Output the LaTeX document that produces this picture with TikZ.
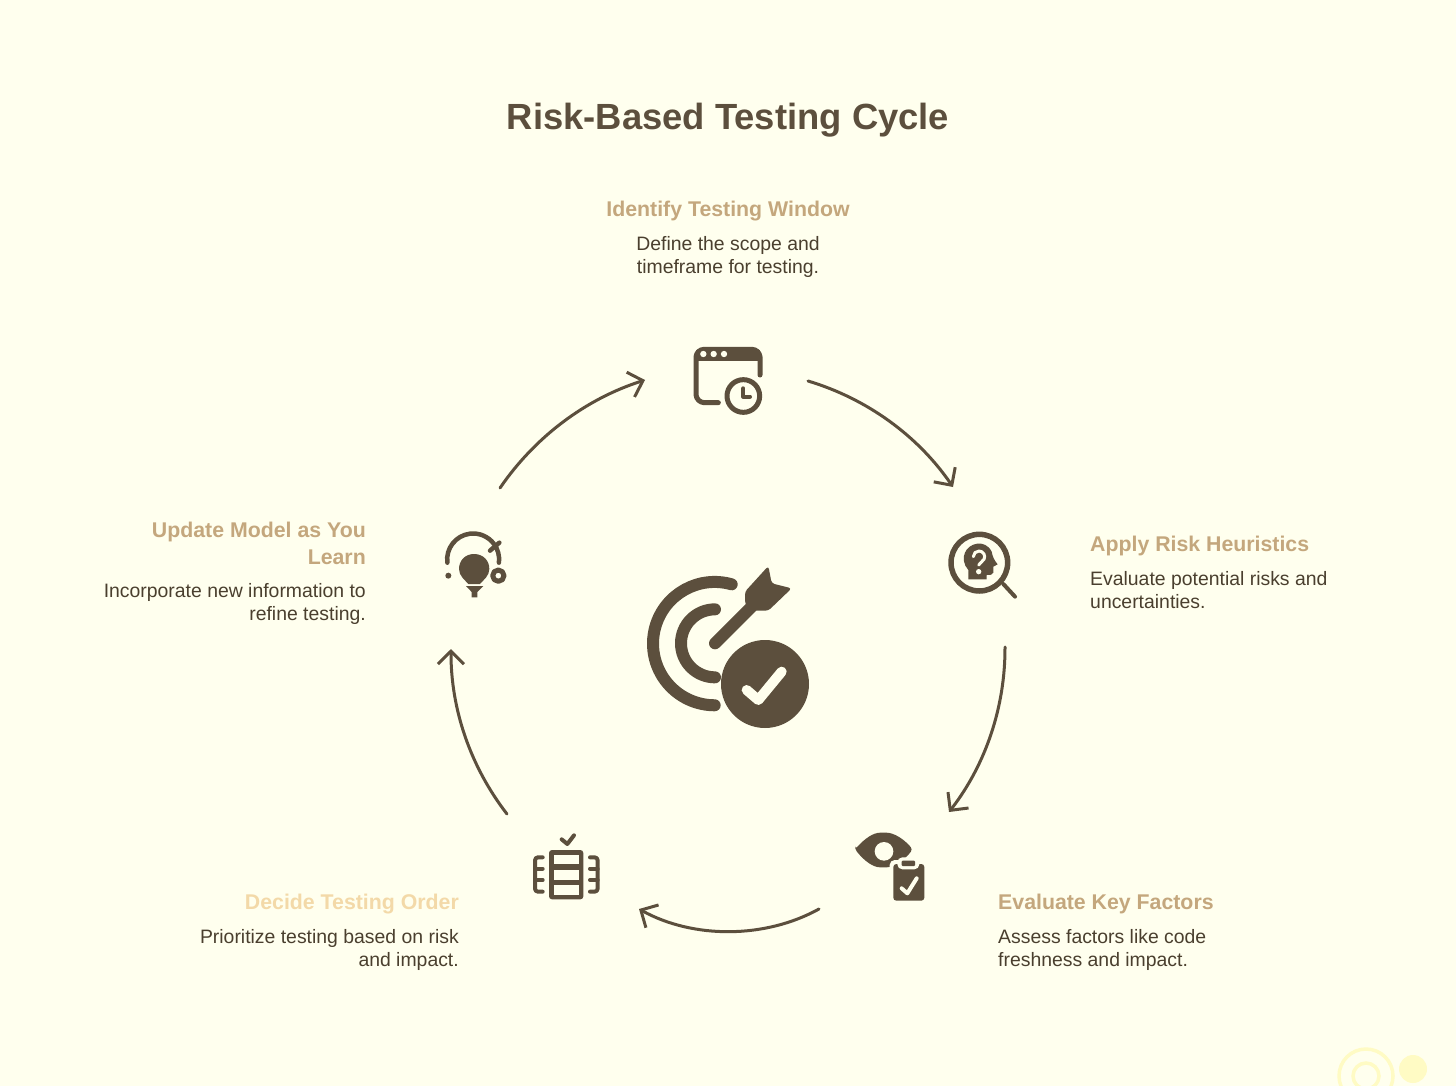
\documentclass[tikz,border=0pt]{standalone}
\usepackage{fontspec}
\setmainfont{Liberation Sans}
\usetikzlibrary{arrows.meta}
\definecolor{paper}{HTML}{FFFFEE}
\definecolor{dark}{HTML}{5C4F3D}
\definecolor{ink}{HTML}{4A3F2E}
\definecolor{tanhead}{HTML}{C4A77D}
\definecolor{lighttan}{HTML}{F3D9A8}
\definecolor{paleyellow}{HTML}{FFFBC4}
\tikzset{
title/.style={anchor=base, inner sep=0pt, text=dark, font=\bfseries\fontsize{36.4}{40}\selectfont},
head/.style={inner sep=0pt, text=tanhead, font=\bfseries\fontsize{21.3}{27}\selectfont},
desc/.style={inner sep=0pt, text=ink, font=\fontsize{19.4}{23}\selectfont},
cycle arrow/.style={draw=dark, line width=3pt, line cap=round, line join=round, looseness=0.88, -{Straight Barb[length=13pt,width=26pt,line width=3pt]}},
solid part/.style={fill=dark, draw=none},
line part/.style={draw=dark, line cap=round, line join=round},
cut part/.style={draw=paper, line cap=round, line join=round},
}

\begin{document}
\begin{tikzpicture}[x=1pt, y=-1pt]
\useasboundingbox (0,0) rectangle (1456,1086);
\fill[paper] (0,0) rectangle (1456,1086);

% watermark
\draw[paleyellow, line width=3.5pt] (1366,1076) circle (27);
\draw[paleyellow, line width=3.5pt] (1366,1076) circle (13);
\fill[paleyellow] (1413,1069) circle (14);

\node[title] (title) at (728,130) {Risk-Based Testing Cycle};

% labels
\node[head, anchor=base] (identify) at (728,216) {Identify Testing Window};
\node[desc, anchor=north, align=center] (identifytext) at (728,236) {Define the scope and\\timeframe for testing.};
\node[head, anchor=base west] (apply) at (1090,551) {Apply Risk Heuristics};
\node[desc, anchor=north west, align=left] (applytext) at (1090,571) {Evaluate potential risks and\\uncertainties.};
\node[head, anchor=base west] (evaluate) at (998,909) {Evaluate Key Factors};
\node[desc, anchor=north west, align=left] (evaluatetext) at (998,929) {Assess factors like code\\freshness and impact.};
\node[head, anchor=base east, text=lighttan] (decide) at (459,909) {Decide Testing Order};
\node[desc, anchor=north east, align=right] (decidetext) at (459,929) {Prioritize testing based on risk\\and impact.};
\node[head, anchor=north east, align=right] (update) at (366,522) {Update Model as You\\Learn};
\node[desc, anchor=north east, align=right] (updatetext) at (366,583) {Incorporate new information to\\refine testing.};

% arrows of the cycle
\coordinate (w1) at (808,381);
\coordinate (h0) at (953,487);
\coordinate (h1) at (1005,647);
\coordinate (e0) at (949,812);
\coordinate (e1) at (819,909);
\coordinate (o0) at (639,909);
\coordinate (o1) at (507,814);
\coordinate (b0) at (451,649);
\coordinate (b1) at (500,488);
\coordinate (w0) at (645,380);
\draw[cycle arrow] (w1) to[bend left=19.5] (h0);
\draw[cycle arrow] (h1) to[bend left=19] (e0);
\draw[cycle arrow] (e1) to[bend left=29] (o0);
\draw[cycle arrow] (o1) to[bend left=19] (b0);
\draw[cycle arrow] (b1) to[bend left=19] (w0);

% window with clock
\begin{scope}[shift={(640,330)}, scale=1/3]
\draw[line part, line width=5pt] (235,218) -- (192,218) to[bend left=40] (168,194) -- (168,80) to[bend left=40] (192,58) -- (336,58) to[bend left=40] (360,80) -- (360,135);
\fill[dark] (168,60) rectangle (360,92);
\foreach \dotx in {190,221,252} \fill[paper] (\dotx,72) circle (9.5);
\fill[paper] (310,198) circle (57);
\draw[line part, line width=5pt] (310,198) circle (49);
\draw[line part, line width=4pt] (310,175) -- (310,200) -- (330,200);
\end{scope}

% head in a lens
\begin{scope}[shift={(920,510)}, scale=1/3]
\draw[line part, line width=5.5pt] (178,158) circle (85);
\draw[line part, line width=4pt] (250,222) -- (285,260);
\fill[solid part] (145,208) -- (145,180) .. controls (130,165) and (128,140) .. (135,128) .. controls (145,100) and (195,85) .. (215,125) .. controls (218,140) and (222,150) .. (233,163) -- (220,170) -- (220,188) .. controls (218,195) and (210,195) .. (200,195) -- (200,208) -- cycle;
\draw[cut part, line width=3pt] (160,140) arc[start angle=180, end angle=385, radius=17] -- (176,165);
\fill[paper] (176,185) circle (8);
\fill[dark] (176,139) circle (5);
\end{scope}

% eye with clipboard
\begin{scope}[shift={(830,810)}, scale=1/3]
\fill[solid part, rounded corners=3pt] (75,118) .. controls (105,85) and (130,68) .. (160,68) .. controls (190,68) and (220,85) .. (248,118) .. controls (220,155) and (190,172) .. (160,172) .. controls (130,172) and (105,155) .. (75,118) -- cycle;
\fill[paper] (162,124) circle (28);
\fill[paper, rounded corners=5pt] (179,150) rectangle (295,285);
\fill[solid part, rounded corners=3pt] (190,162) rectangle (283,272);
\fill[paper, rounded corners=5pt] (202,142) rectangle (268,178);
\fill[solid part, rounded corners=1pt] (215,152) rectangle (255,168);
\draw[cut part, line width=4pt] (215,235) -- (232,250) -- (260,205);
\end{scope}

% list with brackets
\begin{scope}[shift={(510,810)}, scale=1/3]
\draw[line part, line width=4pt] (155,88) -- (172,102) -- (192,76);
\fill[solid part, rounded corners=3pt] (117,120) rectangle (220,268);
\fill[paper] (132,135) rectangle (207,163);
\fill[paper] (132,180) rectangle (207,210);
\fill[paper] (132,225) rectangle (207,255);
\foreach \sidex/\tipx in {75/98, 263/240} {
\draw[line part, line width=4pt, rounded corners=3pt] (\tipx,142) -- (\sidex,142) -- (\sidex,245) -- (\tipx,245);
\draw[line part, line width=4pt] (\sidex,176) -- (\tipx,176);
\draw[line part, line width=4pt] (\sidex,210) -- (\tipx,210);
}
\end{scope}

% bulb
\begin{scope}[shift={(420,510)}, scale=1/3]
\draw[line part, line width=4.5pt] (82,158) arc[start angle=173, end angle=367, radius=78];
\draw[line part, line width=4.5pt] (210,122) -- (238,98);
\fill[solid part] (85,197) circle (9);
\draw[line part, line width=5pt] (235,197) circle (17);
\fill[solid part] (162,132) .. controls (135,132) and (117,152) .. (117,177) .. controls (117,198) and (135,210) .. (145,222) -- (180,222) .. controls (190,210) and (208,198) .. (208,177) .. controls (208,152) and (190,132) .. (162,132) -- cycle;
\fill[solid part] (138,228) -- (190,228) -- (172,246) -- (172,262) -- (155,262) -- (155,246) -- cycle;
\end{scope}

% target with arrow and check
\begin{scope}[shift={(630,550)}, scale=1/3]
\draw[line part, line width=12pt] (305,103) arc[start angle=-74, end angle=-270, radius=185];
\draw[line part, line width=12pt] (255,178) arc[start angle=-90, end angle=-270, radius=102];
\draw[line part, line width=12pt] (255,280) -- (365,170);
\fill[solid part, rounded corners=3pt] (345,125) -- (415,48) -- (425,100) -- (485,115) -- (415,182) -- (360,182) -- (345,160) -- cycle;
\fill[solid part] (405,402) circle (132);
\draw[cut part, line width=10pt] (350,420) -- (385,450) -- (455,365);
\end{scope}
\end{tikzpicture}
\end{document}
